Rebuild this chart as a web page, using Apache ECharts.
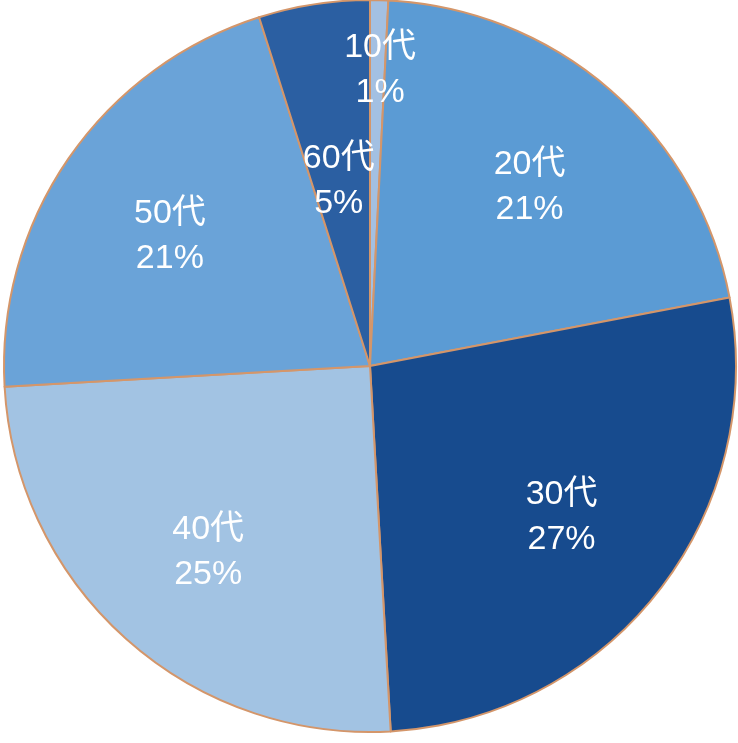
<!DOCTYPE html>
<html><head><meta charset="utf-8">
<script src="https://cdn.jsdelivr.net/npm/echarts@6/dist/echarts.min.js"></script>
<style>html,body{margin:0;padding:0;background:#fff}#c{width:738px;height:743px}</style>
</head><body><div id="c"></div>
<script>
const categories = ['10代','20代','30代','40代','50代','60代'];
const values = [0.8, 21.2, 27.1, 25.0, 21.0, 4.9];
const colors = ['#a3c0e2','#5b9bd4','#174b8e','#a2c3e3','#6aa3d8','#2b5fa2'];
const labelOffsets = {'10代':[4,-53], '20代':[0,4], '30代':[0,2], '40代':[0,5], '50代':[0,8], '60代':[6,55]};

const chart = echarts.init(document.getElementById('c'));
const data = categories.map((c,i)=>({name:c, value:values[i], itemStyle:{color:colors[i]}}));
const labelData = categories.map((c,i)=>({name:c, value:values[i],
  label: {offset: labelOffsets[c] || [0,0]}}));
chart.setOption({
  animation:false,
  series:[{
    type:'pie', center:[370,366], radius:[0,366], startAngle:90, clockwise:true,
    data:data, label:{show:false}, labelLine:{show:false},
    itemStyle:{borderColor:'#d4966a', borderWidth:2}, silent:true
  },{
    type:'pie', center:[370,366], radius:[114,366], startAngle:90, clockwise:true,
    data:labelData, silent:true,
    itemStyle:{color:'rgba(0,0,0,0)', borderWidth:0},
    labelLine:{show:false},
    label:{show:true, position:'inside', color:'#fff', fontSize:34,
      fontFamily:'"Liberation Sans","Noto Sans CJK JP",sans-serif', lineHeight:45,
      formatter:p=>p.name+'\n'+Math.round(p.percent)+'%'}
  }]
});
</script></body></html>
